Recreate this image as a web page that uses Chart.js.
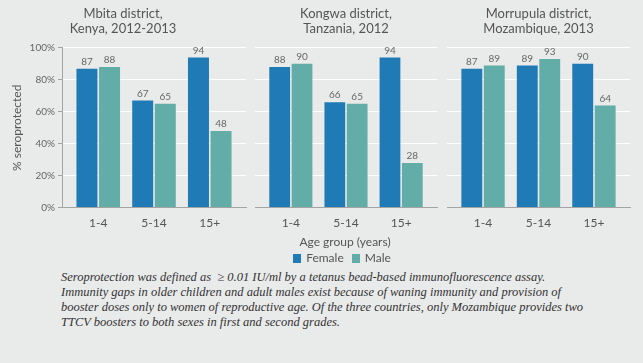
<!DOCTYPE html>
<html>
<head>
<meta charset="utf-8">
<script src="https://cdn.jsdelivr.net/npm/chart.js@4.4.1/dist/chart.umd.min.js"></script>
<style>
  body { margin: 0; background: #e9eaea; }
  #wrap { position: relative; width: 643px; height: 363px; background: #e9eaea; font-family: Lato, "Noto Sans", sans-serif; }
  .panel { position: absolute; top: 0; height: 238px; }
  #xtitle { position: absolute; left: 0; width: 690px; top: 234px; text-align: center; font-size: 12px; color: #555; }
  #legend { position: absolute; left: 0; width: 684px; top: 250px; text-align: center; font-size: 12px; color: #555; }
  #legend span.sw { display: inline-block; width: 8px; height: 9px; margin-right: 5px; vertical-align: -1px; }
  #legend span.item { margin: 0 4px; }
  #note { position: absolute; left: 61px; top: 270px; font-family: "Liberation Serif", "DejaVu Serif", serif; font-style: italic; font-size: 12.5px; line-height: 15px; color: #333; white-space: nowrap; }
</style>
</head>
<body>
<div id="wrap">
  <div class="panel" style="left:0;width:250px"><canvas id="c1"></canvas></div>
  <div class="panel" style="left:250px;width:192px"><canvas id="c2"></canvas></div>
  <div class="panel" style="left:442px;width:201px"><canvas id="c3"></canvas></div>
  <div id="xtitle">Age group (years)</div>
  <div id="legend"><span class="item"><span class="sw" style="background:#1f7ab5"></span>Female</span><span class="item"><span class="sw" style="background:#63ada8"></span>Male</span></div>
  <div id="note">Seroprotection was defined as &nbsp;&ge; 0.01 IU/ml by a tetanus bead-based immunofluorescence assay.<br>Immunity gaps in older children and adult males exist because of waning immunity and provision of<br>booster doses only to women of reproductive age. Of the three countries, only Mozambique provides two<br>TTCV boosters to both sexes in first and second grades.</div>
</div>
<script>
// age groups and values (% seroprotected)
const ageGroups = ['1-4', '5-14', '15+'];
const yTicks = [0, 20, 40, 60, 80, 100];

const kenyaFemale = [87, 67, 94];
const kenyaMale = [88, 65, 48];
const tanzaniaFemale = [88, 66, 94];
const tanzaniaMale = [90, 65, 28];
const mozFemale = [87, 89, 90];
const mozMale = [89, 93, 64];

const FEMALE = '#1f7ab5';
const MALE = '#63ada8';
const AXIS = '#a3a3a3';

const toPts = arr => arr.map((v, i) => ({ x: i, y: v }));

// value labels above the bars
const barLabels = {
  id: 'barLabels',
  afterDatasetsDraw(chart) {
    const ctx = chart.ctx;
    ctx.save();
    ctx.font = '10px Lato, "Noto Sans", sans-serif';
    ctx.fillStyle = '#666';
    ctx.textAlign = 'center';
    ctx.textBaseline = 'bottom';
    chart.data.datasets.forEach((ds, di) => {
      chart.getDatasetMeta(di).data.forEach((el, i) => {
        ctx.fillText(ds.data[i].y, el.x, el.y - 2);
      });
    });
    ctx.restore();
  }
};

function makePanel(id, title, female, male, first, padL, padR) {
  new Chart(document.getElementById(id), {
    type: 'bar',
    data: {
      datasets: [
        { label: 'Female', data: toPts(female), backgroundColor: FEMALE },
        { label: 'Male', data: toPts(male), backgroundColor: MALE }
      ]
    },
    options: {
      responsive: true,
      maintainAspectRatio: false,
      animation: false,
      categoryPercentage: 0.81,
      barPercentage: 0.93,
      layout: { padding: { left: padL, right: padR, top: 0, bottom: 0 } },
      plugins: {
        legend: { display: false },
        tooltip: { enabled: false },
        title: {
          display: true,
          text: title,
          color: '#555',
          font: { family: 'Lato, "Noto Sans", sans-serif', size: 13, weight: 'normal', lineHeight: 1.15 },
          padding: { top: 6, bottom: 12 }
        }
      },
      scales: {
        x: {
          type: 'linear',
          offset: false,
          min: -0.65,
          max: 2.65,
          afterBuildTicks: s => { s.ticks = [0, 1, 2].map(v => ({ value: v })); },
          grid: { display: false, drawTicks: false },
          border: { display: true, color: AXIS },
          ticks: {
            callback: v => ageGroups[v],
            color: '#555',
            padding: 8,
            maxRotation: 0,
            font: { family: 'Lato, "Noto Sans", sans-serif', size: 12 }
          }
        },
        y: {
          min: 0,
          max: 100,
          afterBuildTicks: s => { s.ticks = yTicks.map(v => ({ value: v })); },
          afterFit: s => { s.width = first ? 62 : 0; },
          grid: { color: '#ffffff', lineWidth: 1, drawTicks: first, tickLength: 4, tickColor: AXIS },
          border: { display: first, color: AXIS },
          title: {
            display: first,
            text: '% seroprotected',
            color: '#555',
            font: { family: 'Lato, "Noto Sans", sans-serif', size: 12 },
            padding: { top: 10, bottom: 0 }
          },
          ticks: {
            display: first,
            callback: v => v + '%',
            color: '#666',
            padding: 3,
            font: { family: 'Lato, "Noto Sans", sans-serif', size: 10 }
          }
        }
      }
    },
    plugins: [barLabels]
  });
}

makePanel('c1', ['Mbita district,', 'Kenya, 2012-2013'], kenyaFemale, kenyaMale, true, 0, 4);
makePanel('c2', ['Kongwa district,', 'Tanzania, 2012'], tanzaniaFemale, tanzaniaMale, false, 5, 5);
makePanel('c3', ['Morrupula district,', 'Mozambique, 2013'], mozFemale, mozMale, false, 5, 13);
</script>
</body>
</html>
